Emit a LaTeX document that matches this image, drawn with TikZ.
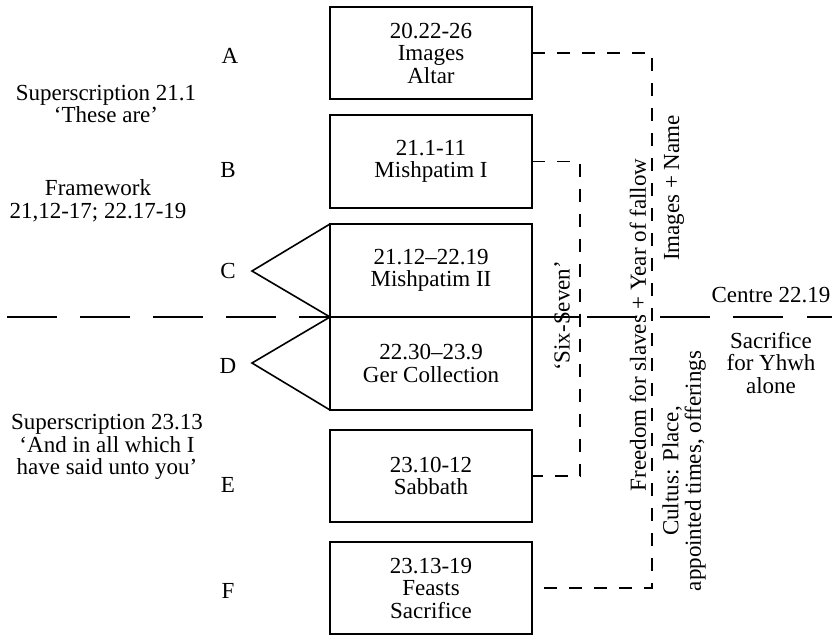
\documentclass[tikz,border=0pt]{standalone}
\usepackage{fontspec}
\setmainfont{Liberation Serif}
\begin{document}
\begin{tikzpicture}[x=1pt,y=-1pt,
  every node/.style={font=\fontsize{23}{22.5}\selectfont, inner sep=0pt, outer sep=0pt},
  sect/.style={draw, line width=1.6pt, minimum width=202pt, align=center},
  txt/.style={align=center},
  letter/.style={anchor=base},
  vtxt/.style={align=center, rotate=90},
  rule/.style={line width=1.6pt},
  link/.style={line width=1.6pt, dash pattern=on 13pt off 12pt},
]
\useasboundingbox (0,0) rectangle (832,635);

% the six sections
\node[sect, minimum height=92pt] (A) at (431,53)    {20.22-26\\Images\\Altar};
\node[sect, minimum height=93pt] (B) at (431,161.5) {21.1-11\\Mishpatim I};
\node[sect, minimum height=93pt] (C) at (431,270.5) {21.12–22.19\\Mishpatim II};
\node[sect, minimum height=93pt] (D) at (431,363.5) {22.30–23.9\\Ger Collection};
\node[sect, minimum height=92pt] (E) at (431,476)   {23.10-12\\Sabbath};
\node[sect, minimum height=92pt] (F) at (431,588)   {23.13-19\\Feasts\\Sacrifice};

% section letters
\node[letter] (lA) at (230,63)  {A};
\node[letter] (lB) at (228,177) {B};
\node[letter] (lC) at (228,278) {C};
\node[letter] (lD) at (228,373) {D};
\node[letter] (lE) at (228,492) {E};
\node[letter] (lF) at (228,598) {F};

% wedges in front of C and D
\coordinate (apC) at (252,271);
\coordinate (apD) at (252,363);
\draw[rule] (C.north west) -- (apC) -- (C.south west);
\draw[rule] (D.north west) -- (apD) -- (D.south west);

% centre line
\coordinate (midL) at (7,317);
\coordinate (midR) at (832,317);
\draw[rule, dash pattern=on 50pt off 23pt] (midL) -- (C.south west);
\draw[rule, dash pattern=on 48pt off 7pt on 50pt off 23pt on 50pt off 23pt on 50pt off 24pt on 50pt off 24pt]
  (C.south east) -- (midR);

% dashed brackets
\coordinate (colBE) at (580,0);
\coordinate (colAF) at (652,0);
\draw[link] (B.east) -| (colBE |- E.east) -- (E.east);
\draw[link] (A.east) -| (colAF |- F.east) -- (F.east);

% left-hand annotations
\node[txt] (sup1) at (106,104) {Superscription 21.1\\‘These are’};
\node[txt] (frame) at (98,201) {Framework\\21,12-17; 22.17-19};
\node[txt] (sup2) at (107,447) {Superscription 23.13\\‘And in all which I\\have said unto you’};

% vertical annotations
\node[vtxt] (six) at (562,316) {‘Six-Seven’};
\node[vtxt] (free) at (638,325) {Freedom for slaves + Year of fallow};
\node[vtxt] (img) at (674,188) {Images + Name};
\node[vtxt] (cult) at (684,471) {Cultus: Place,\\appointed times, offerings};

% centre annotations
\node[anchor=base] (centre) at (771,302) {Centre 22.19};
\node[txt] (sacr) at (771,363) {Sacrifice\\for Yhwh\\alone};
\end{tikzpicture}
\end{document}
